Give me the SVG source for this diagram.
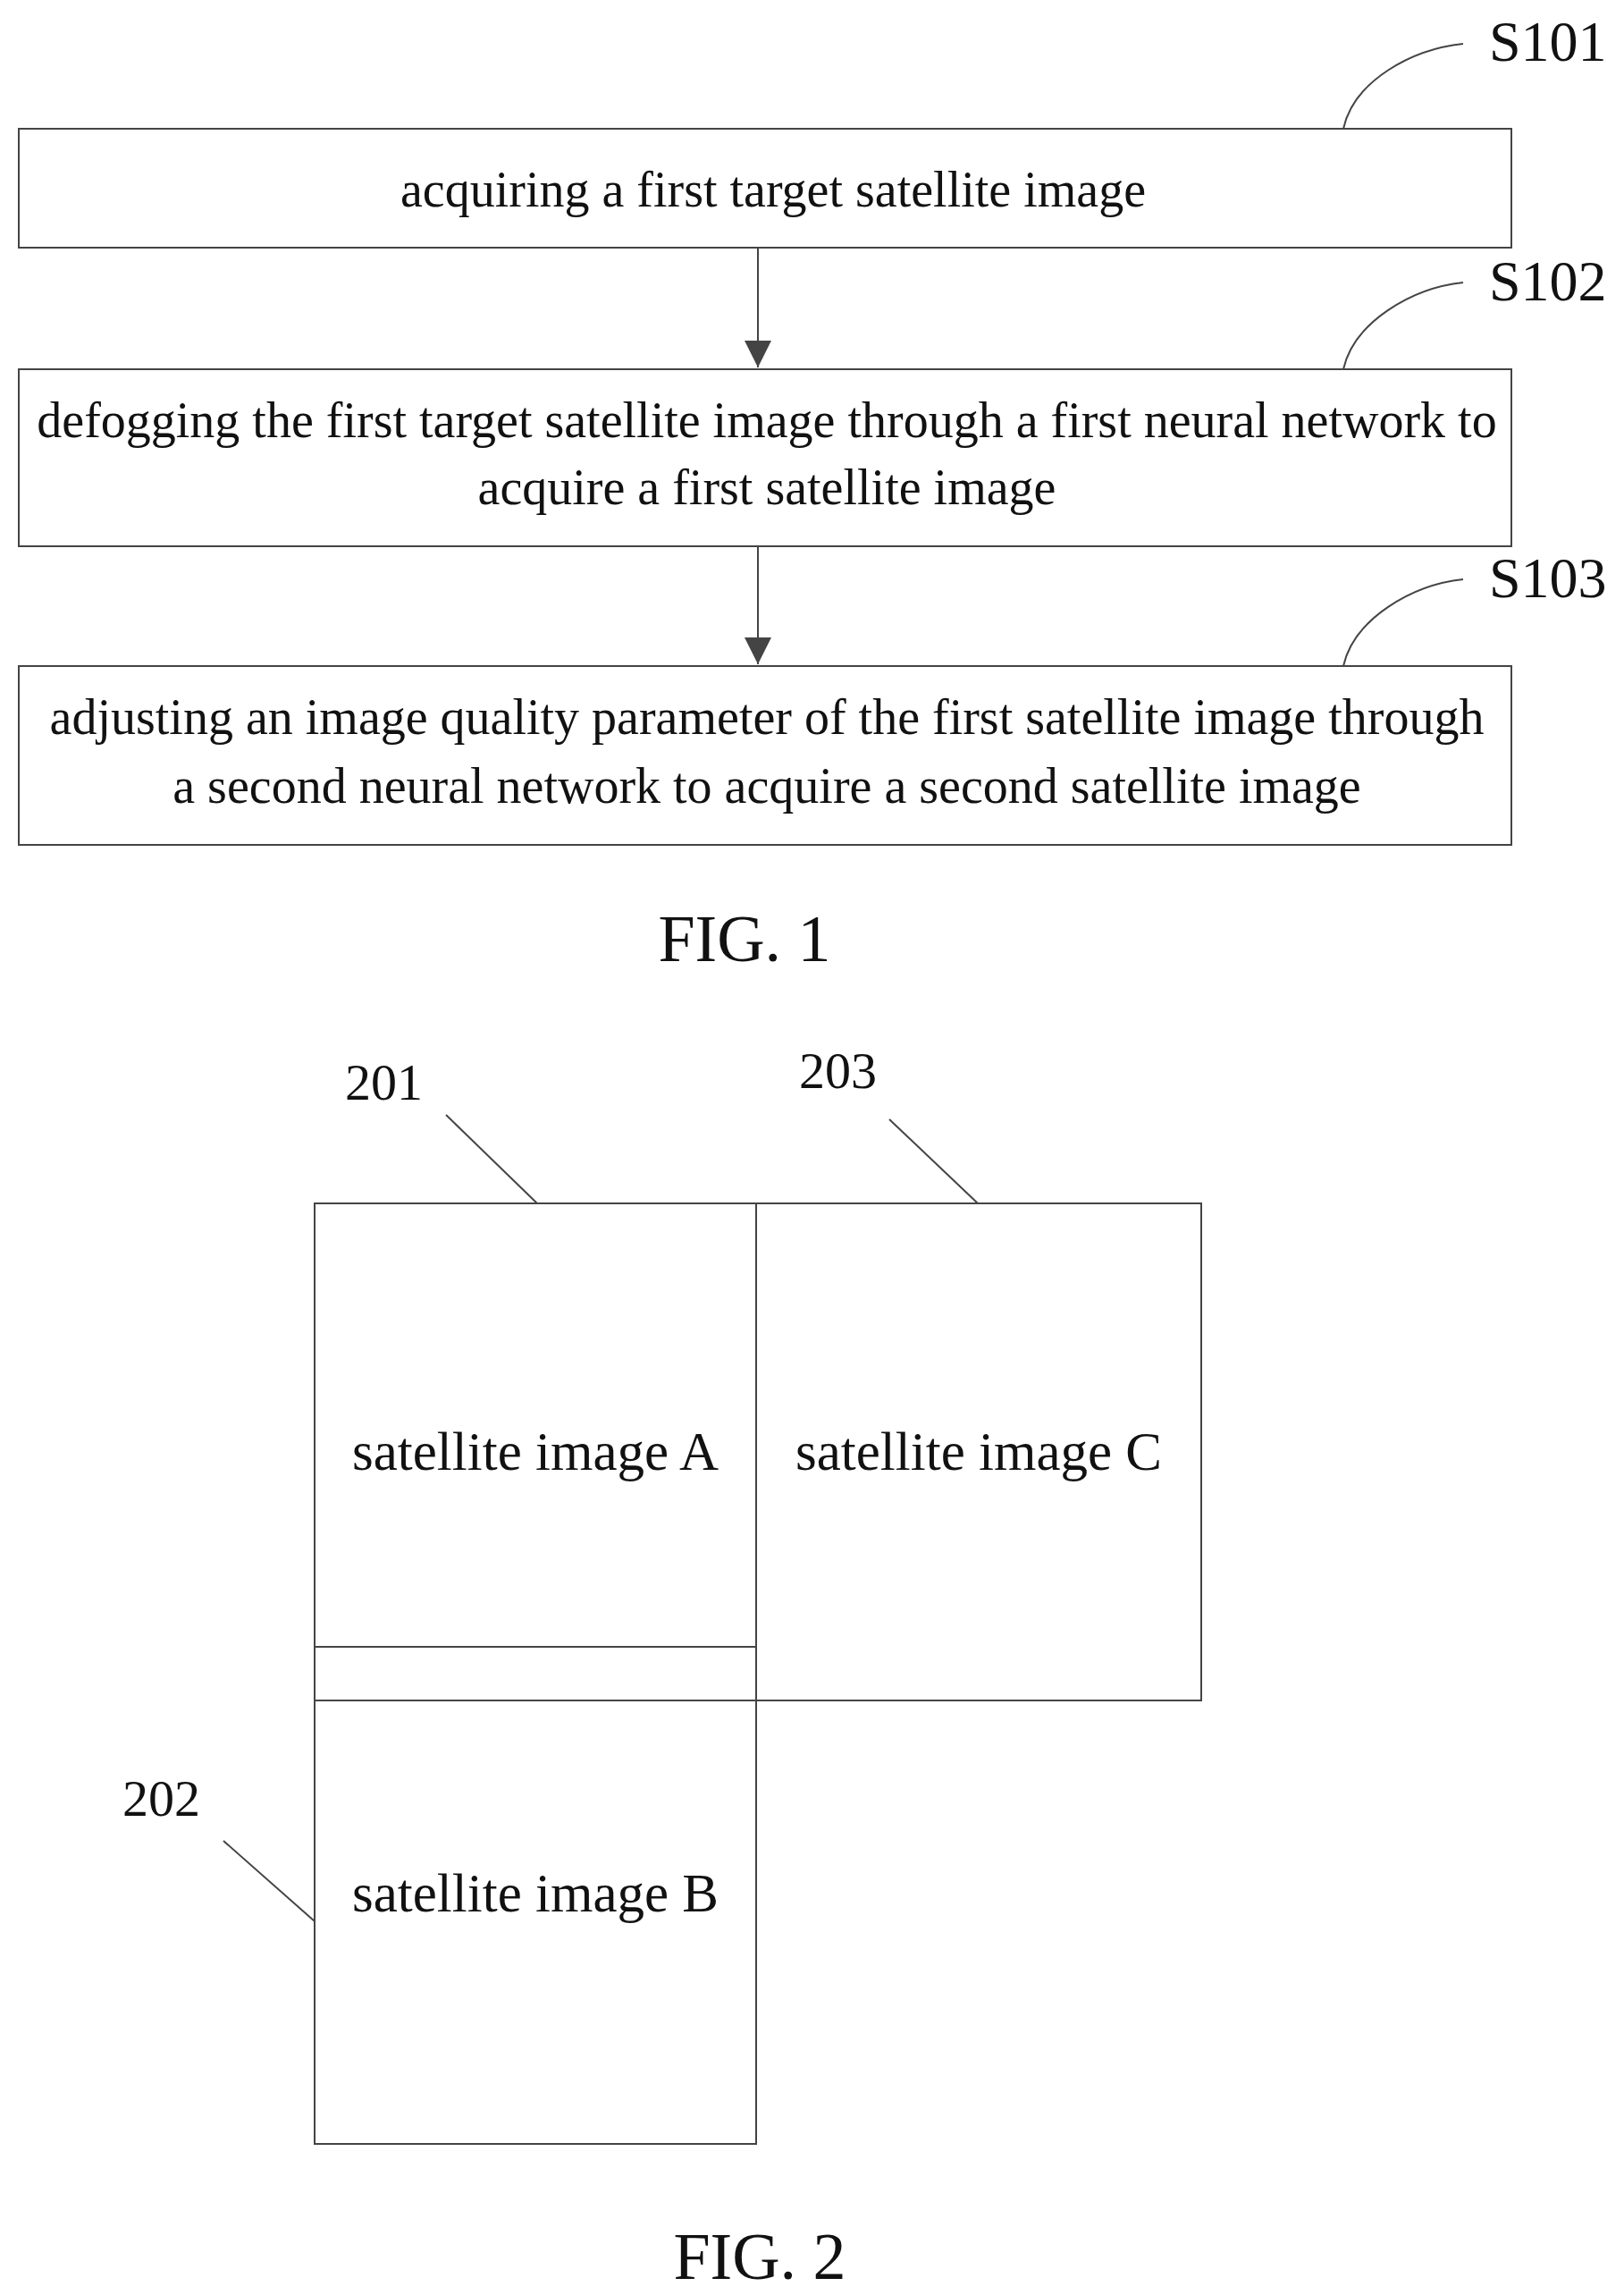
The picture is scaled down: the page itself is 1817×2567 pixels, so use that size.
<svg xmlns="http://www.w3.org/2000/svg" width="1817" height="2567" viewBox="0 0 1817 2567">
<style>
text{font-family:"Liberation Serif","Times New Roman",serif;fill:#111;}
.t{font-size:56px;text-anchor:middle;}
.t2{font-size:61px;text-anchor:middle;}
.lb{font-size:64px;}
.n{font-size:58px;}
.fig{font-size:74px;text-anchor:middle;}
.box{fill:#fff;stroke:#444;stroke-width:2;}
.ln{fill:none;stroke:#444;stroke-width:2;}
</style>
<defs>
<marker id="a" viewBox="0 0 10 10" markerWidth="30" markerHeight="30" refX="10" refY="5" orient="auto" markerUnits="userSpaceOnUse"><path d="M0,0 L10,5 L0,10 z" fill="#444"/></marker></defs>
<g id="s101"><rect class="box" x="21" y="144" width="1670" height="133"/><text class="t" x="865" y="231">acquiring a first target satellite image</text></g>
<g id="s102"><rect class="box" x="21" y="413" width="1670" height="198"/><text class="t" x="858" y="489">defogging the first target satellite image through a first neural network to</text><text class="t" x="858" y="564">acquire a first satellite image</text></g>
<g id="s103"><rect class="box" x="21" y="745" width="1670" height="200"/><text class="t" x="858" y="821">adjusting an image quality parameter of the first satellite image through</text><text class="t" x="858" y="898">a second neural network to acquire a second satellite image</text></g>
<g id="labels1">
<text class="lb" x="1666" y="68">S101</text><text class="lb" x="1666" y="336">S102</text><text class="lb" x="1666" y="668">S103</text>
<text class="fig" x="833" y="1075">FIG. 1</text>
</g>
<g id="connectors">
<line class="ln" x1="848" y1="277" x2="848" y2="411" marker-end="url(#a)"/>
<line class="ln" x1="848" y1="611" x2="848" y2="743" marker-end="url(#a)"/>
<path class="ln" d="M1503,144 C1515,90 1580,55 1637,49"/>
<path class="ln" d="M1503,413 C1515,360 1580,322 1637,316"/>
<path class="ln" d="M1503,745 C1515,692 1580,654 1637,648"/>
<line class="ln" x1="499" y1="1247" x2="601" y2="1346"/>
<line class="ln" x1="995" y1="1252" x2="1094" y2="1346"/>
<line class="ln" x1="250" y1="2059" x2="352" y2="2149"/>
</g>
<g id="imgA"><rect class="box" x="352" y="1346" width="494" height="496"/><text class="t2" x="599" y="1644">satellite image A</text></g>
<g id="band"><rect class="box" x="352" y="1842" width="494" height="60"/></g>
<g id="imgB"><rect class="box" x="352" y="1902" width="494" height="496"/><text class="t2" x="599" y="2138">satellite image B</text></g>
<g id="imgC"><rect class="box" x="846" y="1346" width="498" height="556"/><text class="t2" x="1095" y="1644">satellite image C</text></g>
<g id="labels2">
<text class="n" x="386" y="1230">201</text>
<text class="n" x="894" y="1217">203</text>
<text class="n" x="137" y="2031">202</text>
<text class="fig" x="850" y="2549">FIG. 2</text>
</g>
</svg>
